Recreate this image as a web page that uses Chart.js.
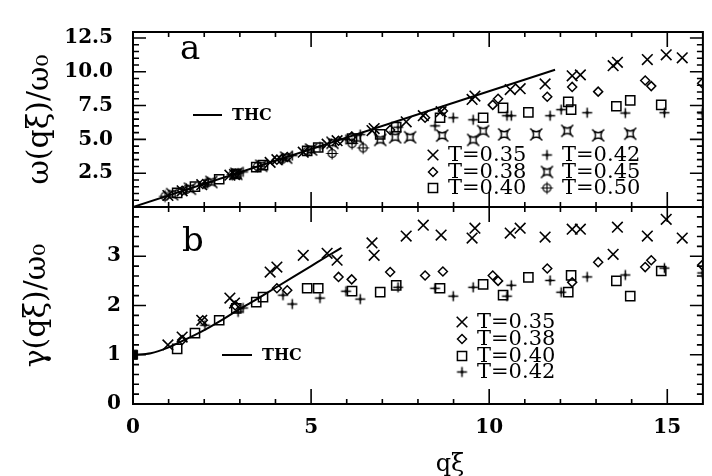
<!DOCTYPE html>
<html>
<head>
<meta charset="utf-8">
<script src="https://cdn.jsdelivr.net/npm/chart.js@4.4.0/dist/chart.umd.min.js"></script>
<style>
html, body { margin: 0; padding: 0; background: #fff; }
#wrap { position: relative; width: 712px; height: 476px; }
canvas { position: absolute; left: 0; top: 0; }
</style>
</head>
<body>
<div id="wrap">
  <canvas id="chartA" width="712" height="476"></canvas>
  <canvas id="chartB" width="712" height="476"></canvas>
</div>
<script>
// ---- data ----
// T=0.35
var q35 = [0.98, 1.38, 1.93, 2.72, 2.85, 3.85, 4.04, 4.78, 5.45, 5.73, 6.71, 6.77, 7.67, 8.15, 8.65, 9.52, 9.6, 10.59, 10.87, 11.57, 12.33, 12.56, 13.48, 13.6, 14.44, 14.97, 15.42];
var omega35 = [0.85, 1.2, 1.65, 2.35, 2.4, 3.3, 3.5, 4.05, 4.65, 4.9, 5.65, 5.8, 6.3, 6.75, 7.05, 7.95, 8.2, 8.68, 8.75, 9.1, 9.7, 9.77, 10.45, 10.7, 10.9, 11.25, 11.03];
var gamma35 = [1.2, 1.36, 1.7, 2.15, 2.05, 2.68, 2.78, 3.02, 3.06, 2.92, 3.27, 3.02, 3.41, 3.63, 3.43, 3.37, 3.57, 3.47, 3.57, 3.39, 3.55, 3.55, 3.04, 3.59, 3.41, 3.75, 3.37];
// T=0.38
var q38 = [1.38, 1.96, 2.87, 4.04, 4.33, 5.77, 6.14, 7.22, 8.2, 8.7, 10.1, 10.25, 11.63, 12.33, 13.06, 14.38, 14.55, 15.98];
var omega38 = [1.2, 1.7, 2.45, 3.5, 3.7, 4.9, 5.2, 5.7, 6.6, 7.1, 7.55, 8.0, 8.15, 8.88, 8.53, 9.35, 8.94, 9.15];
var gamma38 = [1.3, 1.7, 2.0, 2.35, 2.31, 2.58, 2.53, 2.68, 2.61, 2.69, 2.61, 2.5, 2.75, 2.47, 2.88, 2.78, 2.92, 2.82];
// T=0.40
var q40 = [1.24, 1.74, 2.42, 2.9, 3.46, 3.65, 4.89, 5.2, 6.15, 6.94, 7.39, 8.62, 9.83, 10.39, 11.1, 12.22, 12.3, 13.57, 13.96, 14.83];
var omega40 = [1.05, 1.5, 2.05, 2.45, 2.95, 3.1, 4.15, 4.4, 5.05, 5.37, 5.9, 6.6, 6.6, 7.33, 7.0, 7.77, 7.2, 7.45, 7.88, 7.55];
var gamma40 = [1.12, 1.44, 1.7, 1.94, 2.07, 2.17, 2.35, 2.35, 2.29, 2.27, 2.41, 2.35, 2.43, 2.21, 2.57, 2.27, 2.61, 2.5, 2.19, 2.7];
// T=0.42
var q42 = [2.02, 2.95, 3.09, 4.21, 4.47, 5.25, 5.98, 6.38, 7.44, 8.48, 8.99, 9.55, 10.5, 10.62, 11.71, 12.02, 12.75, 13.82, 14.92, 15.98];
var omega42 = [1.7, 2.5, 2.6, 3.6, 3.8, 4.45, 5.0, 5.35, 5.9, 6.0, 6.6, 6.45, 6.75, 6.75, 6.75, 7.2, 6.97, 6.95, 6.97, 6.95];
var gamma42 = [1.6, 1.87, 1.95, 2.21, 2.03, 2.15, 2.29, 2.13, 2.37, 2.35, 2.19, 2.37, 2.19, 2.41, 2.51, 2.27, 2.58, 2.62, 2.76, 2.66];
// T=0.45 and T=0.50 (panel a only)
var q45 = [1.1, 1.6, 2.2, 2.9, 3.6, 4.3, 5.0, 5.6, 6.3, 6.94, 7.36, 7.78, 8.68, 9.55, 9.83, 10.42, 11.32, 12.19, 13.06, 13.96];
var omega45 = [0.95, 1.35, 1.85, 2.45, 3.05, 3.65, 4.25, 4.75, 5.1, 4.96, 5.16, 5.16, 5.28, 4.96, 5.61, 5.37, 5.37, 5.63, 5.3, 5.42];
var q50 = [0.9, 1.5, 2.1, 2.8, 3.5, 4.2, 4.9, 5.59, 6.15, 6.46];
var omega50 = [0.8, 1.3, 1.8, 2.4, 3.0, 3.55, 4.15, 3.96, 4.69, 4.37];
// q = 0 point of panel b
var qZero = [0];
var gammaZero = [1];
// THC curves
var qThcA = [0, 11.85];
var omegaThc = [0, 10.15];
var qThcB = [0, 0.5, 1, 1.5, 2, 2.5, 3, 3.5, 4, 4.5, 5, 5.5, 5.85];
var gammaThc = [1.0, 1.03, 1.15, 1.32, 1.5, 1.71, 1.93, 2.14, 2.36, 2.58, 2.8, 3.02, 3.17];

var xTicks = [0, 5, 10, 15];
var tempLabels = ['T=0.35', 'T=0.38', 'T=0.40', 'T=0.42', 'T=0.45', 'T=0.50'];

function pts(xs, ys) {
    return xs.map(function (x, i) { return {x: x, y: ys[i]}; });
}

// small canvas markers for the symbols chart.js has no style for
function makeMarker(draw) {
    var c = document.createElement('canvas');
    c.width = 15; c.height = 15;
    var g = c.getContext('2d');
    g.strokeStyle = '#000';
    g.fillStyle = '#000';
    g.lineWidth = 1.5;
    g.translate(7.5, 7.5);
    draw(g);
    return c;
}
var plusMark = makeMarker(function (g) {
    g.beginPath();
    g.moveTo(-5, 0); g.lineTo(5, 0);
    g.moveTo(0, -5); g.lineTo(0, 5);
    g.stroke();
    g.beginPath();
    g.moveTo(0, -2); g.lineTo(2, 0); g.lineTo(0, 2); g.lineTo(-2, 0);
    g.closePath();
    g.fill();
});
var bowMark = makeMarker(function (g) {
    g.beginPath();
    g.moveTo(-4, -4);
    g.quadraticCurveTo(0, -1.5, 4, -4);
    g.quadraticCurveTo(1.5, 0, 4, 4);
    g.quadraticCurveTo(0, 1.5, -4, 4);
    g.quadraticCurveTo(-1.5, 0, -4, -4);
    g.moveTo(-4, -4); g.lineTo(-6, -6);
    g.moveTo(4, -4); g.lineTo(6, -6);
    g.moveTo(4, 4); g.lineTo(6, 6);
    g.moveTo(-4, 4); g.lineTo(-6, 6);
    g.stroke();
});
var circPlusMark = makeMarker(function (g) {
    g.lineWidth = 1.2;
    g.beginPath();
    g.arc(0, 0, 4, 0, Math.PI * 2);
    g.moveTo(-6, 0); g.lineTo(6, 0);
    g.moveTo(0, -6); g.lineTo(0, 6);
    g.stroke();
});

var styles = [
    {pointStyle: 'crossRot', radius: 7.5, borderWidth: 1.6},
    {pointStyle: 'rectRot', radius: 4.5, borderWidth: 1.5},
    {pointStyle: 'rect', radius: 6.5, borderWidth: 1.5},
    {pointStyle: plusMark, radius: 6, borderWidth: 1.5},
    {pointStyle: bowMark, radius: 6, borderWidth: 1.5},
    {pointStyle: circPlusMark, radius: 6, borderWidth: 1.2}
];

function scatterSet(label, data, s) {
    return {
        label: label,
        data: data,
        showLine: false,
        borderColor: '#000',
        backgroundColor: 'rgba(0,0,0,0)',
        pointStyle: s.pointStyle,
        pointRadius: s.radius,
        pointBorderWidth: s.borderWidth
    };
}
function thcSet(data) {
    return {
        label: 'THC',
        data: data,
        showLine: true,
        borderColor: '#000',
        borderWidth: 2,
        pointRadius: 0,
        cubicInterpolationMode: 'monotone'
    };
}

var SERIF = '"DejaVu Serif", "Liberation Serif", serif';

// frame, inward ticks, legends and panel letters
var deco = {
    id: 'panelDeco',
    afterDraw: function (chart, args, o) {
        var ctx = chart.ctx, a = chart.chartArea;
        var xs = chart.scales.x, ys = chart.scales.y;
        var i, v, p, len;
        ctx.save();
        ctx.strokeStyle = '#000';
        ctx.lineWidth = 2;
        ctx.strokeRect(a.left, a.top, a.right - a.left, a.bottom - a.top);

        ctx.lineWidth = 1.6;
        ctx.beginPath();
        for (v = 1; v < xs.max; v++) {
            p = xs.getPixelForValue(v);
            len = (v % 5 === 0) ? 15 : 5;
            ctx.moveTo(p, a.bottom); ctx.lineTo(p, a.bottom - len);
            ctx.moveTo(p, a.top); ctx.lineTo(p, a.top + len);
        }
        var every = Math.round(o.yMajor / o.yMinor);
        for (i = 1; i * o.yMinor < ys.max - 1e-6; i++) {
            p = ys.getPixelForValue(i * o.yMinor);
            len = (i % every === 0) ? 13 : 6;
            ctx.moveTo(a.left, p); ctx.lineTo(a.left + len, p);
            ctx.moveTo(a.right, p); ctx.lineTo(a.right - len, p);
        }
        ctx.stroke();

        // panel letter
        ctx.fillStyle = '#000';
        ctx.textBaseline = 'middle';
        ctx.textAlign = 'left';
        ctx.font = '34px ' + SERIF;
        ctx.fillText(o.letter, o.letterX, o.letterY);

        // THC key
        ctx.lineWidth = 2;
        ctx.beginPath();
        ctx.moveTo(o.thc[0], o.thc[2]);
        ctx.lineTo(o.thc[1], o.thc[2]);
        ctx.stroke();
        ctx.font = 'bold 16px ' + SERIF;
        ctx.fillText('THC', o.thc[1] + 10, o.thc[2] + 1);

        // temperature key
        ctx.font = '21px ' + SERIF;
        o.keys.forEach(function (k) {
            var ds = chart.data.datasets[k.ds];
            ctx.save();
            ctx.strokeStyle = '#000';
            ctx.fillStyle = 'rgba(0,0,0,0)';
            ctx.lineWidth = ds.pointBorderWidth;
            if (Chart.helpers && Chart.helpers.drawPoint) {
                Chart.helpers.drawPoint(ctx, {
                    pointStyle: ds.pointStyle, radius: ds.pointRadius,
                    borderWidth: ds.pointBorderWidth, rotation: 0
                }, k.x, k.y);
            }
            ctx.restore();
            ctx.fillStyle = '#000';
            ctx.fillText(ds.label, k.x + 15, k.y + 1);
        });

        if (o.xTitle) {
            ctx.font = '24px ' + SERIF;
            ctx.textAlign = 'center';
            ctx.fillText(o.xTitle, 450, 465);
        }
        ctx.restore();
    }
};

var tickFont = {family: SERIF, size: 20, weight: 'bold'};

// panel a
new Chart(document.getElementById('chartA'), {
    type: 'scatter',
    data: {
        datasets: [
            scatterSet(tempLabels[0], pts(q35, omega35), styles[0]),
            scatterSet(tempLabels[1], pts(q38, omega38), styles[1]),
            scatterSet(tempLabels[2], pts(q40, omega40), styles[2]),
            scatterSet(tempLabels[3], pts(q42, omega42), styles[3]),
            scatterSet(tempLabels[4], pts(q45, omega45), styles[4]),
            scatterSet(tempLabels[5], pts(q50, omega50), styles[5]),
            thcSet(pts(qThcA, omegaThc))
        ]
    },
    options: {
        responsive: false,
        animation: false,
        devicePixelRatio: 1,
        layout: {padding: {top: 13, right: 9, bottom: 0, left: 0}},
        plugins: {
            legend: {display: false},
            tooltip: {enabled: false},
            panelDeco: {
                yMinor: 0.5, yMajor: 2.5,
                letter: 'a', letterX: 180, letterY: 50,
                thc: [193, 222, 115],
                keys: [
                    {ds: 0, x: 433, y: 155}, {ds: 1, x: 433, y: 172}, {ds: 2, x: 433, y: 188},
                    {ds: 3, x: 547, y: 155}, {ds: 4, x: 547, y: 172}, {ds: 5, x: 547, y: 188}
                ]
            }
        },
        scales: {
            x: {
                type: 'linear', min: 0, max: 16,
                grid: {display: false, drawTicks: false},
                border: {display: false},
                ticks: {display: false},
                afterFit: function (s) { s.height = 269; }
            },
            y: {
                type: 'linear', min: 0, max: 12.94,
                grid: {display: false, drawTicks: false},
                border: {display: false},
                ticks: {
                    stepSize: 2.5, includeBounds: false, padding: 20,
                    color: '#000', font: tickFont,
                    callback: function (v) { return v === 0 ? null : v.toFixed(1); }
                },
                title: {
                    display: true, text: 'ω(qξ)/ω₀', color: '#000',
                    font: {family: SERIF, size: 30, lineHeight: 1.2},
                    padding: {top: 22, bottom: 0}
                },
                afterFit: function (s) { s.width = 133; }
            }
        }
    },
    plugins: [deco]
});

// panel b
new Chart(document.getElementById('chartB'), {
    type: 'scatter',
    data: {
        datasets: [
            scatterSet(tempLabels[0], pts(q35, gamma35), styles[0]),
            scatterSet(tempLabels[1], pts(q38, gamma38), styles[1]),
            scatterSet(tempLabels[2], pts(q40, gamma40), styles[2]),
            scatterSet(tempLabels[3], pts(q42, gamma42), styles[3]),
            thcSet(pts(qThcB, gammaThc)),
            {
                label: 'q0', data: pts(qZero, gammaZero), showLine: false,
                pointStyle: 'rect', pointRadius: 6.5,
                backgroundColor: '#000', borderColor: '#000'
            }
        ]
    },
    options: {
        responsive: false,
        animation: false,
        devicePixelRatio: 1,
        layout: {padding: {top: 207, right: 9, bottom: 0, left: 0}},
        plugins: {
            legend: {display: false},
            tooltip: {enabled: false},
            panelDeco: {
                yMinor: 0.2, yMajor: 1,
                letter: 'b', letterX: 182, letterY: 242,
                thc: [222, 252, 355],
                xTitle: 'qξ',
                keys: [
                    {ds: 0, x: 462, y: 322}, {ds: 1, x: 462, y: 339},
                    {ds: 2, x: 462, y: 356}, {ds: 3, x: 462, y: 372}
                ]
            }
        },
        scales: {
            x: {
                type: 'linear', min: 0, max: 16,
                grid: {display: false, drawTicks: false},
                border: {display: false},
                afterBuildTicks: function (s) {
                    s.ticks = xTicks.map(function (v) { return {value: v}; });
                },
                ticks: {
                    padding: 12, color: '#000', font: tickFont,
                    maxRotation: 0, autoSkip: false,
                    callback: function (v) { return String(v); }
                },
                afterFit: function (s) { s.height = 72; }
            },
            y: {
                type: 'linear', min: 0, max: 4,
                grid: {display: false, drawTicks: false},
                border: {display: false},
                ticks: {
                    stepSize: 1, includeBounds: false, padding: 12,
                    color: '#000', font: tickFont,
                    callback: function (v) { return v >= 4 ? null : String(v); }
                },
                title: {
                    display: true, text: 'γ(qξ)/ω₀', color: '#000',
                    font: {family: SERIF, size: 30, lineHeight: 1.2},
                    padding: {top: 19, bottom: 0}
                },
                afterFit: function (s) { s.width = 133; }
            }
        }
    },
    plugins: [deco]
});
</script>
</body>
</html>
